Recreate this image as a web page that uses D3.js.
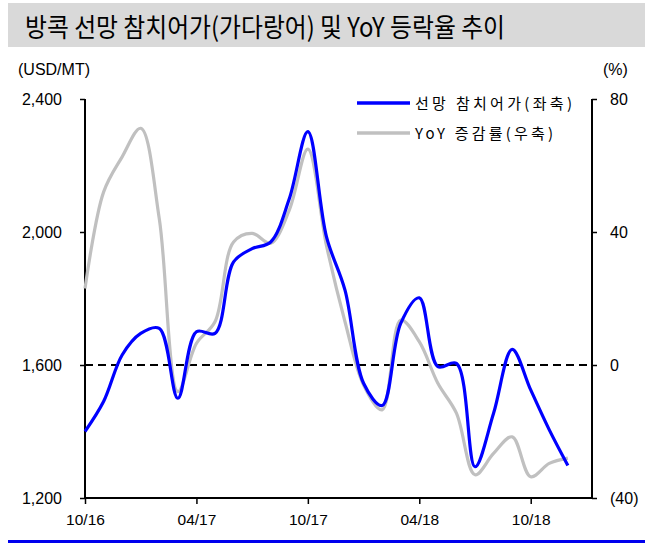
<!DOCTYPE html>
<html>
<head>
<meta charset="utf-8">
<script src="https://cdn.jsdelivr.net/npm/d3@7"></script>
<style>
    body { margin: 0; background: #fff; }
    svg { display: block; }
    text { font-family: "Liberation Sans", Arial, sans-serif; fill: #000; }
    .kr { font-family: "Noto Sans CJK KR", "Noto Sans", sans-serif; }
</style>
</head>
<body>
<svg id="chart" width="645" height="546"></svg>
<script>
// monthly, 10/16 ~ 12/18
var months = ["10/16", "11/16", "12/16", "01/17", "02/17", "03/17", "04/17", "05/17", "06/17",
    "07/17", "08/17", "09/17", "10/17", "11/17", "12/17", "01/18", "02/18", "03/18", "04/18",
    "05/18", "06/18", "07/18", "08/18", "09/18", "10/18", "11/18", "12/18"];

// 선망 참치어가 (USD/MT, 좌축)
var priceValues = [1400, 1490, 1630, 1695, 1710, 1500, 1700, 1695, 1910, 1950, 1970, 2100,
    2302, 1986, 1825, 1545, 1478, 1725, 1802, 1595, 1605, 1294, 1455, 1647, 1525, 1405, 1298];

// YoY 증감률 (%, 우축)
var yoyValues = [23, 52, 62.6, 71.2, 44, -8, 6.5, 13, 37, 39.6, 36.6, 46.6,
    64.9, 36, 13, -6, -13.5, 13.5, 7, -5.5, -14.5, -33, -26.6, -21.6, -33.6, -29.6, -28];

var xTickLabels = ["10/16", "04/17", "10/17", "04/18", "10/18"];
var leftTicks = [1200, 1600, 2000, 2400];
var rightTicks = [-40, 0, 40, 80];

var Chart = {

    left : 85,
    right : 592,
    top : 99,
    bottom : 498,

    draw : function () {
        var svg = d3.select("#chart");
        var me = this;

        var x = d3.scaleLinear().domain([0, 27.3]).range([me.left, me.right]),
            yL = d3.scaleLinear().domain([1200, 2400]).range([me.bottom, me.top]),
            yR = d3.scaleLinear().domain([-40, 80]).range([me.bottom, me.top]);

        // title band
        svg.append("rect")
            .attr("x", 8).attr("y", 3)
            .attr("width", 637).attr("height", 44)
            .attr("fill", "#d9d9d9");
        svg.append("text")
            .attr("class", "kr")
            .attr("x", 25).attr("y", 37)
            .attr("font-size", 26.5)
            .attr("textLength", 480)
            .attr("lengthAdjust", "spacingAndGlyphs")
            .text("방콕 선망 참치어가(가다랑어) 및 YoY 등락율 추이");

        // units
        svg.append("text")
            .attr("x", 18).attr("y", 75)
            .attr("font-size", 16)
            .attr("textLength", 72)
            .attr("lengthAdjust", "spacingAndGlyphs")
            .text("(USD/MT)");
        svg.append("text")
            .attr("x", 603).attr("y", 75)
            .attr("font-size", 16)
            .text("(%)");

        // zero line
        svg.append("line")
            .attr("x1", me.left).attr("x2", me.right)
            .attr("y1", yR(0)).attr("y2", yR(0))
            .attr("stroke", "#000")
            .attr("stroke-width", 2)
            .attr("stroke-dasharray", "8,5");

        // axes
        var tickIdx = xTickLabels.map(function (l) { return months.indexOf(l); });

        var axisL = svg.append("g")
            .attr("transform", "translate(" + me.left + ",0)")
            .call(d3.axisLeft(yL).tickValues(leftTicks).tickSize(6).tickPadding(17)
                .tickFormat(d3.format(",")));
        var axisR = svg.append("g")
            .attr("transform", "translate(" + me.right + ",0)")
            .call(d3.axisRight(yR).tickValues(rightTicks).tickSize(6).tickPadding(12)
                .tickFormat(function (d) { return d < 0 ? "(" + (-d) + ")" : d; }));
        var axisB = svg.append("g")
            .attr("transform", "translate(0," + me.bottom + ")")
            .call(d3.axisBottom(x).tickValues(tickIdx).tickSize(6).tickPadding(10)
                .tickFormat(function (d) { return months[d]; }));

        [axisL, axisR, axisB].forEach(function (a) {
            a.select(".domain").attr("stroke-width", 2);
            a.selectAll(".tick line").attr("stroke-width", 1.5);
            a.selectAll("text")
                .attr("font-family", "Liberation Sans, Arial, sans-serif")
                .attr("font-size", 16)
                .attr("fill", "#000");
        });
        axisB.selectAll("text").attr("font-size", 15.5);
        axisB.select(".domain").attr("d", "M" + me.left + ",0H" + me.right);
        axisL.select(".domain").attr("d", "M0," + me.top + "V" + me.bottom);
        axisR.select(".domain").attr("d", "M0," + me.top + "V" + me.bottom);
        axisL.selectAll(".tick line").attr("x2", -5);
        axisR.selectAll(".tick line").attr("x2", 5);

        // lines
        var curve = d3.curveCatmullRom.alpha(0.5);

        var grayLine = d3.line()
            .x(function (d, i) { return x(i); })
            .y(function (d) { return yR(d); })
            .curve(curve);
        var blueLine = d3.line()
            .x(function (d, i) { return x(i); })
            .y(function (d) { return yL(d); })
            .curve(curve);

        svg.append("path")
            .attr("d", grayLine(yoyValues))
            .attr("fill", "none")
            .attr("stroke", "#c0c0c0")
            .attr("stroke-width", 3.2);
        svg.append("path")
            .attr("d", blueLine(priceValues))
            .attr("fill", "none")
            .attr("stroke", "#0000ff")
            .attr("stroke-width", 3.2);

        // legend
        var legend = [
            { label : "선망 참치어가(좌축)", color : "#0000ff", y : 103, w : 157 },
            { label : "YoY 증감률(우축)", color : "#c0c0c0", y : 133, w : 138 }
        ];
        var lg = svg.selectAll(".legend").data(legend).enter()
            .append("g").attr("class", "legend");
        lg.append("line")
            .attr("x1", 357).attr("x2", 410)
            .attr("y1", function (d) { return d.y; })
            .attr("y2", function (d) { return d.y; })
            .attr("stroke", function (d) { return d.color; })
            .attr("stroke-width", 3.5);
        lg.append("text")
            .attr("class", "kr")
            .attr("x", 415)
            .attr("y", function (d) { return d.y + 5.5; })
            .attr("font-size", 15)
            .attr("textLength", function (d) { return d.w; })
            .attr("lengthAdjust", "spacing")
            .text(function (d) { return d.label; });

        // bottom rule
        svg.append("rect")
            .attr("x", 8).attr("y", 540)
            .attr("width", 637).attr("height", 3)
            .attr("fill", "#0000ee");
    }
};

Chart.draw();
</script>
</body>
</html>
